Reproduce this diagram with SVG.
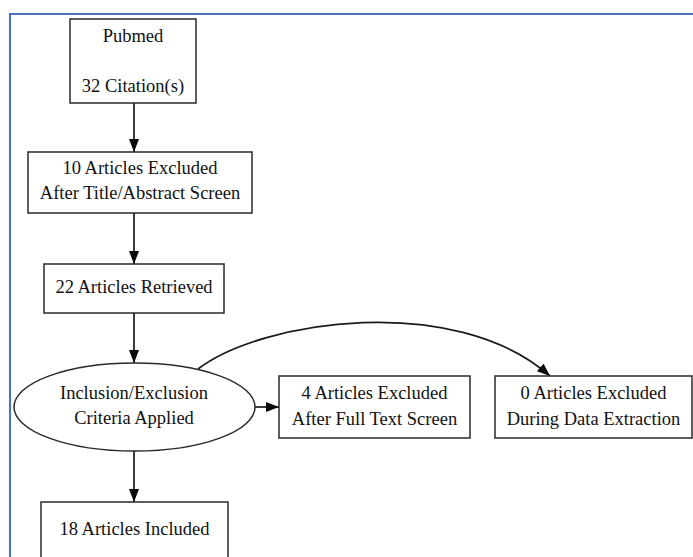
<svg xmlns="http://www.w3.org/2000/svg" width="693" height="557" viewBox="0 0 693 557">
<style>
.n{fill:#fff;stroke:#2a2a2a;stroke-width:1.5}
.t{font-family:"Liberation Serif","Times New Roman",serif;font-size:18.5px;fill:#111;text-anchor:middle}
.e{fill:none;stroke:#1a1a1a;stroke-width:1.7}
</style>
<defs>
<marker id="ah" markerUnits="userSpaceOnUse" markerWidth="16" markerHeight="12" refX="13" refY="5" orient="auto" viewBox="0 0 16 12">
<path d="M0,0 L13,5 L0,10 Z" fill="#0a0a0a"/>
</marker>
</defs>
<rect width="693" height="557" fill="#fff"/>
<path d="M10,557 V14 H693" fill="none" stroke="#4a70c0" stroke-width="2"/>
<g id="connectors">
<line class="e" x1="134" y1="103" x2="134" y2="152" marker-end="url(#ah)"/>
<line class="e" x1="134" y1="213" x2="134" y2="264" marker-end="url(#ah)"/>
<line class="e" x1="134" y1="313" x2="134" y2="363" marker-end="url(#ah)"/>
<line class="e" x1="134" y1="451" x2="134" y2="502" marker-end="url(#ah)"/>
<line class="e" x1="255" y1="407" x2="279" y2="407" marker-end="url(#ah)"/>
<path class="e" d="M198,369 C262,320 455,292 550,376" marker-end="url(#ah)"/>
</g>
<g id="pubmed">
<rect class="n" x="70" y="19" width="126" height="84"/>
<text class="t" x="133" y="42">Pubmed</text>
<text class="t" x="133" y="92">32 Citation(s)</text>
</g>
<g id="excluded-title">
<rect class="n" x="28" y="152" width="224" height="61"/>
<text class="t" x="140" y="174">10 Articles Excluded</text>
<text class="t" x="140" y="199">After Title/Abstract Screen</text>
</g>
<g id="retrieved">
<rect class="n" x="44" y="264" width="180" height="49"/>
<text class="t" x="134" y="293">22 Articles Retrieved</text>
</g>
<g id="criteria">
<ellipse class="n" cx="134.5" cy="407" rx="120.5" ry="44"/>
<text class="t" x="134" y="399">Inclusion/Exclusion</text>
<text class="t" x="134" y="424">Criteria Applied</text>
</g>
<g id="excluded-fulltext">
<rect class="n" x="279" y="376" width="191" height="62"/>
<text class="t" x="374.5" y="399">4 Articles Excluded</text>
<text class="t" x="374.5" y="425">After Full Text Screen</text>
</g>
<g id="excluded-extraction">
<rect class="n" x="495" y="376" width="197" height="62"/>
<text class="t" x="593.5" y="399">0 Articles Excluded</text>
<text class="t" x="593.5" y="425">During Data Extraction</text>
</g>
<g id="included">
<rect class="n" x="41" y="502" width="187" height="70"/>
<text class="t" x="134.5" y="535">18 Articles Included</text>
</g>
</svg>
